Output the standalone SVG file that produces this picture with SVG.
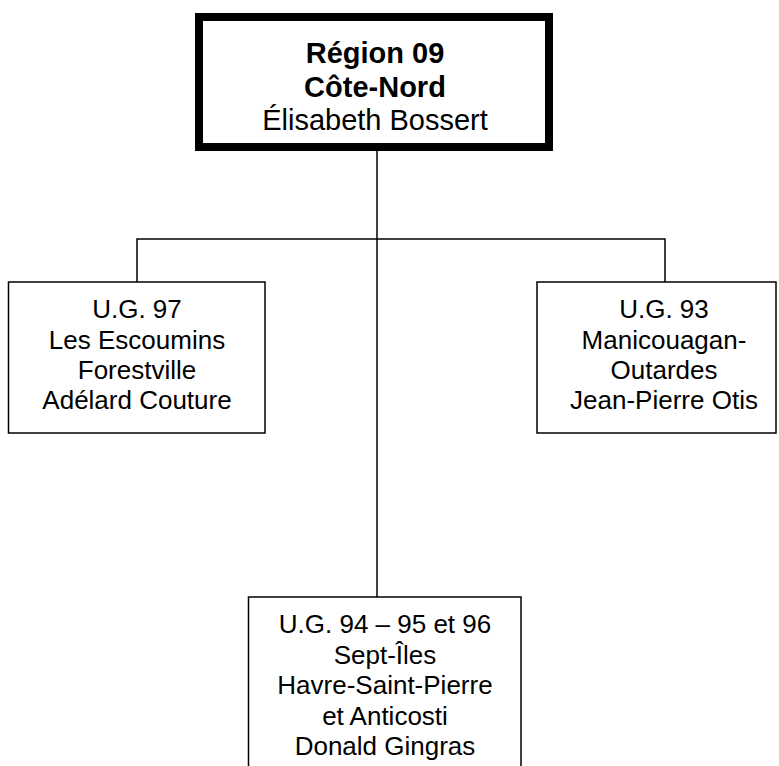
<svg xmlns="http://www.w3.org/2000/svg" width="779" height="766" viewBox="0 0 779 766">
<style>
.box{fill:#fff;stroke:#000;stroke-width:1.5}
.top{fill:#fff;stroke:#000;stroke-width:8}
.conn{fill:none;stroke:#000;stroke-width:1.5}
text{font-family:"Liberation Sans",Arial,sans-serif;fill:#000;text-anchor:middle}
.t{font-size:26px}
.h{font-size:29px}
.b{font-weight:bold}
</style>
<rect width="779" height="766" fill="#fff"/>
<g id="connectors">
<line class="conn" x1="377" y1="147" x2="377" y2="597"/>
<polyline class="conn" points="137,282 137,239 665,239 665,282"/>
</g>
<g id="region">
<rect class="top" x="199" y="17" width="350" height="130"/>
<text class="h b" x="375" y="63">Région 09</text>
<text class="h b" x="375" y="97">Côte-Nord</text>
<text class="h" x="375" y="130">Élisabeth Bossert</text>
</g>
<g id="ug97">
<rect class="box" x="8.5" y="282" width="256.5" height="151"/>
<text class="t" x="137" y="318">U.G. 97</text>
<text class="t" x="137" y="348.5">Les Escoumins</text>
<text class="t" x="137" y="379">Forestville</text>
<text class="t" x="137" y="409">Adélard Couture</text>
</g>
<g id="ug93">
<rect class="box" x="537" y="282" width="239" height="151"/>
<text class="t" x="664" y="318">U.G. 93</text>
<text class="t" x="664" y="348.5">Manicouagan-</text>
<text class="t" x="664" y="379">Outardes</text>
<text class="t" x="664" y="409">Jean-Pierre Otis</text>
</g>
<g id="ug94">
<rect class="box" x="248.5" y="597" width="272.5" height="180"/>
<text class="t" x="385" y="633">U.G. 94 – 95 et 96</text>
<text class="t" x="385" y="663.5">Sept-Îles</text>
<text class="t" x="385" y="694">Havre-Saint-Pierre</text>
<text class="t" x="385" y="724.5">et Anticosti</text>
<text class="t" x="385" y="755">Donald Gingras</text>
</g>
</svg>
